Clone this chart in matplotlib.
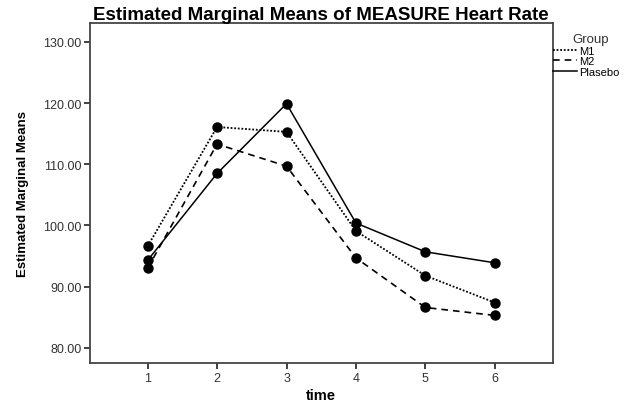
import matplotlib
matplotlib.use('Agg')
import matplotlib.pyplot as plt

plt.rcParams['font.family'] = ['Liberation Sans', 'DejaVu Sans']

time = [1, 2, 3, 4, 5, 6]
m1 = [96.6, 116.1, 115.3, 99.1, 91.8, 87.4]
m2 = [93.0, 113.3, 109.7, 94.7, 86.6, 85.3]
plasebo = [94.3, 108.5, 119.9, 100.4, 95.7, 93.9]

yticks = [80, 90, 100, 110, 120, 130]

fig = plt.figure(figsize=(6.38, 4.06), dpi=100)
ax = fig.add_axes([0.141, 0.103, 0.725, 0.838])

ax.plot(time, m1, color='black', linestyle=(0, (1, 1)), linewidth=1.3,
        marker='o', markersize=6.5, label='M1')
ax.plot(time, m2, color='black', linestyle=(0, (4, 3)), linewidth=1.2,
        marker='o', markersize=6.5, label='M2')
ax.plot(time, plasebo, color='black', linestyle='-', linewidth=1.1,
        marker='o', markersize=6.5, label='Plasebo')

ax.set_xlim(0.17, 6.83)
ax.set_ylim(77.5, 133.1)
ax.set_xticks(time)
ax.set_yticks(yticks)
ax.set_yticklabels(['%.2f' % v for v in yticks])
ax.tick_params(direction='out', length=4, width=1.3, labelsize=9,
               labelcolor='#333333', color='#333333', pad=2)
for s in ax.spines.values():
    s.set_linewidth(1.3)
    s.set_color('#444444')

ax.set_title('Estimated Marginal Means of MEASURE Heart Rate',
             fontsize=13.5, fontweight='bold', pad=3)
ax.set_xlabel('time', fontsize=10.5, fontweight='bold', labelpad=3)
ax.set_ylabel('Estimated Marginal Means', fontsize=9.5, fontweight='bold',
              family=['Liberation Sans Narrow', 'Liberation Sans'], labelpad=10)

leg = ax.legend(title='Group', loc='upper left', bbox_to_anchor=(1.0, 0.97),
                frameon=False, fontsize=8, title_fontsize=9.5,
                handlelength=2.2, handletextpad=0.2, labelspacing=0.05,
                borderpad=0, borderaxespad=0, markerscale=0)
for h in leg.legend_handles:
    h.set_marker('')
leg._legend_box.align = 'left'
leg.get_title().set_color('#333333')
leg.get_title().set_position((20, 0))

fig.savefig('out.png', dpi=100)
